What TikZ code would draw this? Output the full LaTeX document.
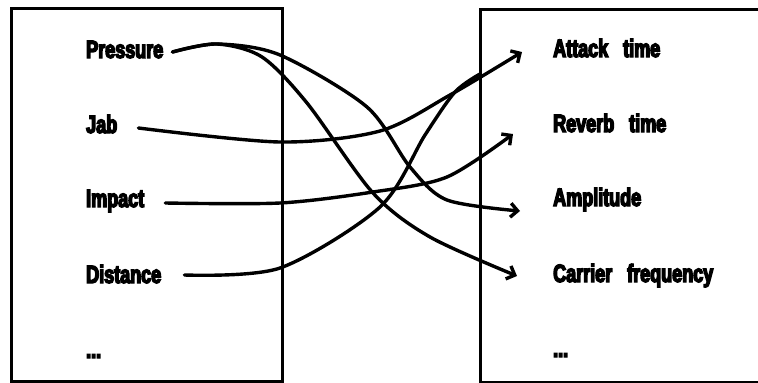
\documentclass[tikz,border=0pt]{standalone}
\usepackage{fontspec}
\newfontfamily\labelfont[FakeStretch=0.72,WordSpace=3]{Liberation Sans Bold}
\usetikzlibrary{arrows.meta}
\tikzset{
  lbl/.style={anchor=base west, inner sep=0pt, text height=18pt, text depth=0pt,
    font=\labelfont\fontsize{25}{25}\selectfont,
    execute at begin node={\special{pdf:literal direct 2 Tr 1.4 w}},
    execute at end node={\special{pdf:literal direct 0 Tr}}},
  frame/.style={line width=3pt},
  link/.style={line width=3.4pt, line cap=round},
  tip/.style={link, -{Straight Barb[length=7pt,width=14pt]}}
}
\begin{document}
\begin{tikzpicture}[x=1pt,y=-1pt]
\useasboundingbox (0,0) rectangle (758,383);
\draw[frame] (11,8) rectangle (282,381);
\draw[frame] (480,9) rectangle (775,382);
% gestures
\node[lbl] (pres) at (86,58) {Pressure};
\node[lbl] (jab) at (86,133) {Jab};
\node[lbl] (imp) at (86,207) {Impact};
\node[lbl] (dist) at (86,283) {Distance};
\node[lbl] (ldots) at (86,358) {...};
% sound parameters
\node[lbl] (att) at (553,57) {Attack time};
\node[lbl] (rev) at (553,132) {Reverb time};
\node[lbl] (amp) at (553,206) {Amplitude};
\node[lbl] (car) at (553,282) {Carrier frequency};
\node[lbl] (rdots) at (553,357) {...};
% mappings
\draw[tip] plot[smooth] coordinates {([xshift=9pt,yshift=-3pt]pres.east) (217,44) (280,55) (367,107) (410,167) (447,200) ([xshift=-33pt,yshift=-14pt]amp.west)};
\draw[tip] plot[smooth] coordinates {([xshift=9pt,yshift=-3pt]pres.east) (217,44) (262,57) (307,103) (373,193) (430,237) ([xshift=-36pt,yshift=-3pt]car.west)};
\draw[tip] plot[smooth] coordinates {([xshift=21pt,yshift=-4pt]jab.east) (280,142) (380,131) (450,95) ([xshift=-31pt,yshift=-4pt]att.west)};
\draw[link] plot[smooth] coordinates {([xshift=23pt,yshift=-1pt]dist.east) (280,268) (380,207) (425,135) (455,92) (480,74)};
\draw[tip] plot[smooth] coordinates {([xshift=21pt,yshift=-5pt]imp.east) (280,203) (373,192) (447,177) ([xshift=-40pt,yshift=-11pt]rev.west)};
\end{tikzpicture}
\end{document}
